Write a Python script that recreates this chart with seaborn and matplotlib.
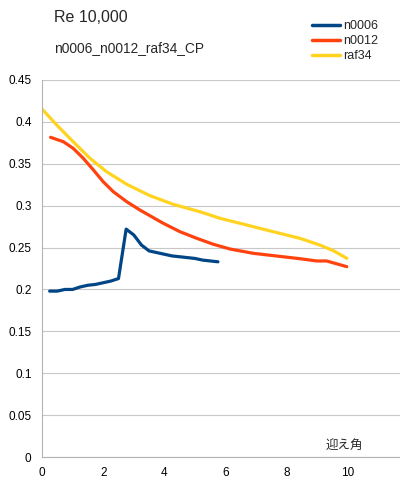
import numpy as np
import pandas as pd
import seaborn as sns
import matplotlib.pyplot as plt

# angle of attack / CP values
n0006_aoa = [0.25, 0.5, 0.75, 1.0, 1.25, 1.5, 1.75, 2.0, 2.25, 2.5, 2.75, 3.0, 3.25,
             3.5, 3.75, 4.0, 4.25, 4.5, 4.75, 5.0, 5.25, 5.5, 5.75]
n0006_cp = [0.198, 0.198, 0.200, 0.200, 0.203, 0.205, 0.206, 0.208, 0.210, 0.213, 0.272,
            0.265, 0.253, 0.246, 0.244, 0.242, 0.240, 0.239, 0.238, 0.237, 0.235, 0.234, 0.233]

n0012_aoa = [0.28, 0.70, 1.02, 1.35, 1.68, 2.0, 2.33, 2.77, 3.2, 3.96, 4.51, 5.06, 5.6,
             6.14, 6.91, 7.67, 8.43, 8.98, 9.3, 9.96]
n0012_cp = [0.3816, 0.3763, 0.3684, 0.3565, 0.3426, 0.3286, 0.3167, 0.3047, 0.2948, 0.279,
            0.2689, 0.261, 0.2539, 0.2483, 0.2431, 0.2399, 0.2367, 0.234, 0.234, 0.2272]

raf34_aoa = [0.0, 0.48, 1.02, 1.57, 2.11, 2.77, 3.53, 4.29, 4.84, 5.16, 5.82, 6.69, 7.56,
             8.43, 9.08, 9.52, 9.96]
raf34_cp = [0.4154, 0.3963, 0.3763, 0.3565, 0.3405, 0.3255, 0.3119, 0.3016, 0.296, 0.2928,
            0.2849, 0.2769, 0.2689, 0.261, 0.253, 0.2463, 0.2372]

series_names = ['n0006', 'n0012', 'raf34']
colors = ['#004586', '#ff420e', '#ffd320']

df = pd.concat([
    pd.DataFrame({'aoa': n0006_aoa, 'cp': n0006_cp, 'series': 'n0006'}),
    pd.DataFrame({'aoa': n0012_aoa, 'cp': n0012_cp, 'series': 'n0012'}),
    pd.DataFrame({'aoa': raf34_aoa, 'cp': raf34_cp, 'series': 'raf34'}),
], ignore_index=True)

sns.set_style('white')
plt.rcParams['font.family'] = ['Liberation Sans', 'Noto Sans CJK JP', 'DejaVu Sans']

fig = plt.figure(figsize=(4, 5), dpi=100)
ax = fig.add_axes([42 / 400, 43 / 500, 358 / 400, 377 / 500])

sns.lineplot(data=df, x='aoa', y='cp', hue='series', hue_order=series_names,
             palette=colors, linewidth=2.3, sort=False, ax=ax, legend=False)

ax.set_xlim(0, 11.7)
ax.set_ylim(0, 0.45)
ax.set_xticks([0, 2, 4, 6, 8, 10])
ax.set_yticks(np.arange(0, 0.451, 0.05))
ax.set_yticklabels(['0', '0.05', '0.1', '0.15', '0.2', '0.25', '0.3', '0.35', '0.4', '0.45'])
ax.grid(axis='y', color='#c8c8c8', linewidth=0.8)
ax.set_axisbelow(True)
for side in ['top', 'right']:
    ax.spines[side].set_visible(False)
for side in ['left', 'bottom']:
    ax.spines[side].set_color('#b3b3b3')
ax.tick_params(axis='both', labelsize=8.5, colors='#b3b3b3', labelcolor='black', length=4)
ax.set_xlabel('')
ax.set_ylabel('')
ax.text(10.5, 0.006, '迎え角', fontsize=9, ha='right', va='bottom',
        family=['Noto Sans CJK JP', 'DejaVu Sans'])

fig.text(54 / 400, 1 - 18 / 500, 'Re 10,000', fontsize=11.5, va='center')
fig.text(54 / 400, 1 - 48 / 500, 'n0006_n0012_raf34_CP', fontsize=9.9, va='center')

handles = [plt.Line2D([], [], color=c, linewidth=2.5) for c in colors]
fig.legend(handles, series_names, loc='upper left', bbox_to_anchor=(307 / 400, 1 - 15 / 500),
           frameon=False, fontsize=9, handlelength=2.2, handletextpad=0.3,
           labelspacing=0.25, borderaxespad=0)

fig.savefig('out.png', dpi=100)
